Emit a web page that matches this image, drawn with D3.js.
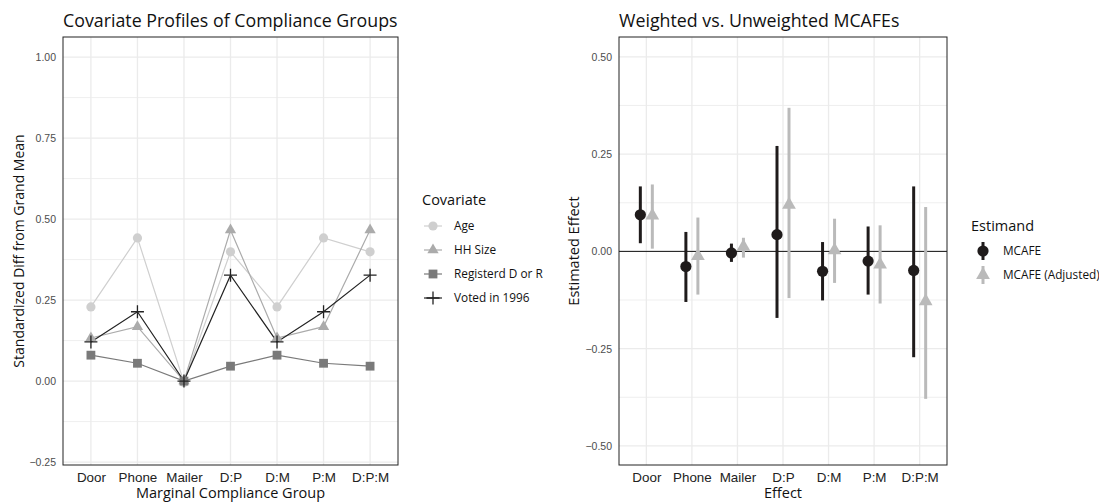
<!DOCTYPE html>
<html>
<head>
<meta charset="utf-8">
<script src="https://cdn.jsdelivr.net/npm/d3@7"></script>
<style>
  body { margin: 0; background: #fff; }
  svg { font-family: "Open Sans", "Noto Sans", sans-serif; }
</style>
</head>
<body>
<svg id="chart"></svg>
<script>
// categories shared by both panels
const groups = ["Door", "Phone", "Mailer", "D:P", "D:M", "P:M", "D:P:M"];

// left panel: standardized differences per covariate
const covariates = ["Age", "HH Size", "Registerd D or R", "Voted in 1996"];
const ageVals = [0.229, 0.442, -0.004, 0.399, 0.229, 0.442, 0.399];
const hhVals = [0.133, 0.168, 0.0, 0.466, 0.133, 0.168, 0.466];
const regVals = [0.080, 0.055, 0.0, 0.046, 0.080, 0.055, 0.046];
const votedVals = [0.121, 0.214, 0.0, 0.327, 0.121, 0.214, 0.327];
const leftTicks = [-0.25, 0, 0.25, 0.5, 0.75, 1.0];

// right panel: estimates with intervals
const estimands = ["MCAFE", "MCAFE (Adjusted)"];
const mcafeEst = [0.094, -0.039, -0.004, 0.043, -0.051, -0.025, -0.049];
const mcafeLo = [0.021, -0.130, -0.027, -0.171, -0.126, -0.111, -0.272];
const mcafeHi = [0.167, 0.050, 0.020, 0.271, 0.024, 0.064, 0.167];
const adjEst = [0.092, -0.012, 0.012, 0.120, 0.003, -0.034, -0.128];
const adjLo = [0.007, -0.111, -0.016, -0.120, -0.081, -0.134, -0.379];
const adjHi = [0.172, 0.087, 0.035, 0.369, 0.084, 0.067, 0.114];
const rightTicks = [-0.5, -0.25, 0, 0.25, 0.5];

const W = 1099, H = 504;
const svg = d3.select("#chart").attr("width", W).attr("height", H);

const gridCol = "#ebebeb";
const tickCol = "#4d4d4d";
const titleSize = "17.8px", axisTitleSize = "14.5px", legTitleSize = "14.5px", legLabelSize = "11.8px";

function panel(x0, x1, y0, y1, yDomain, ticks) {
  const sx = d3.scalePoint().domain(groups).range([x0, x1]).padding(0.6);
  const sy = d3.scaleLinear().domain(yDomain).range([y1, y0]);
  const g = svg.append("g");
  // minor grid
  const minors = [];
  for (let i = 0; i < ticks.length - 1; i++) minors.push((ticks[i] + ticks[i + 1]) / 2);
  minors.push(ticks[0] - (ticks[1] - ticks[0]) / 2);
  g.selectAll(".minor").data(minors.filter(d => sy(d) > y0 && sy(d) < y1)).enter()
    .append("line").attr("x1", x0).attr("x2", x1)
    .attr("y1", d => sy(d)).attr("y2", d => sy(d))
    .attr("stroke", gridCol).attr("stroke-width", 0.8);
  g.selectAll(".majorY").data(ticks).enter()
    .append("line").attr("x1", x0).attr("x2", x1)
    .attr("y1", d => sy(d)).attr("y2", d => sy(d))
    .attr("stroke", gridCol).attr("stroke-width", 1.3);
  g.selectAll(".majorX").data(groups).enter()
    .append("line").attr("y1", y0).attr("y2", y1)
    .attr("x1", d => sx(d)).attr("x2", d => sx(d))
    .attr("stroke", gridCol).attr("stroke-width", 1.3);
  // axes (labels only)
  const ay = d3.axisLeft(sy).tickValues(ticks).tickFormat(d3.format(".2f")).tickSize(0).tickPadding(7);
  svg.append("g").attr("transform", `translate(${x0},0)`).call(ay)
    .call(a => a.select(".domain").remove())
    .selectAll("text").attr("fill", tickCol).style("font-size", "10.5px").attr("font-family", null);
  const ax = d3.axisBottom(sx).tickSize(0).tickPadding(7);
  svg.append("g").attr("transform", `translate(0,${y1})`).call(ax)
    .call(a => a.select(".domain").remove())
    .selectAll("text").attr("fill", "#222").style("font-size", "13.4px").attr("font-family", null);
  return { sx, sy, g };
}

function frame(x0, x1, y0, y1) {
  svg.append("rect").attr("x", x0).attr("y", y0).attr("width", x1 - x0).attr("height", y1 - y0)
    .attr("fill", "none").attr("stroke", "#222").attr("stroke-width", 1);
}

function sym(sel, shape, color, size) {
  if (shape === "circle") {
    sel.append("circle").attr("r", size).attr("fill", color);
  } else if (shape === "triangle") {
    sel.append("path").attr("d", d3.symbol(d3.symbolTriangle, size * size * 2.6)()).attr("fill", color);
  } else if (shape === "square") {
    sel.append("rect").attr("x", -size).attr("y", -size).attr("width", 2 * size).attr("height", 2 * size).attr("fill", color);
  } else {
    sel.append("path").attr("d", `M${-size},0H${size}M0,${-size}V${size}`).attr("stroke", color).attr("stroke-width", 1.3);
  }
}

// ---------- left panel ----------
const L = { x0: 63, x1: 398, y0: 37, y1: 465 };
const lp = panel(L.x0, L.x1, L.y0, L.y1, [-0.259, 1.062], leftTicks);
const series = [
  { name: covariates[0], vals: ageVals, color: "#cfcfcf", shape: "circle", size: 4.6 },
  { name: covariates[1], vals: hhVals, color: "#ababab", shape: "triangle", size: 4.6 },
  { name: covariates[2], vals: regVals, color: "#7a7a7a", shape: "square", size: 4.4 },
  { name: covariates[3], vals: votedVals, color: "#222222", shape: "plus", size: 6.5 }
];
const line = d3.line().x((d, i) => lp.sx(groups[i])).y(d => lp.sy(d));
series.forEach(s => {
  lp.g.append("path").datum(s.vals).attr("d", line)
    .attr("fill", "none").attr("stroke", s.color).attr("stroke-width", 1.2);
});
series.forEach(s => {
  s.vals.forEach((v, i) => {
    const m = lp.g.append("g").attr("transform", `translate(${lp.sx(groups[i])},${lp.sy(v)})`);
    sym(m, s.shape, s.color, s.size);
  });
});
frame(L.x0, L.x1, L.y0, L.y1);

svg.append("text").attr("x", L.x0).attr("y", 27).text("Covariate Profiles of Compliance Groups")
  .style("font-size", titleSize).attr("fill", "#111");
svg.append("text").attr("transform", `translate(24,${(L.y0 + L.y1) / 2}) rotate(-90)`)
  .attr("text-anchor", "middle").text("Standardized Diff from Grand Mean")
  .style("font-size", "14px").attr("fill", "#111");
svg.append("text").attr("x", (L.x0 + L.x1) / 2).attr("y", 498).attr("text-anchor", "middle")
  .text("Marginal Compliance Group").style("font-size", axisTitleSize).attr("fill", "#111");

// left legend
const leg1 = svg.append("g").attr("transform", "translate(422,0)");
leg1.append("text").attr("x", 0).attr("y", 205).text("Covariate").style("font-size", legTitleSize).attr("fill", "#111");
series.forEach((s, i) => {
  const y = 226 + i * 24;
  const k = leg1.append("g").attr("transform", `translate(11,${y})`);
  k.append("line").attr("x1", -9).attr("x2", 9).attr("stroke", s.color).attr("stroke-width", 1.2);
  sym(k, s.shape, s.color, s.size);
  leg1.append("text").attr("x", 32).attr("y", y + 4).text(s.name).style("font-size", legLabelSize).attr("fill", "#111");
});

// ---------- right panel ----------
const R = { x0: 619, x1: 947, y0: 37, y1: 465 };
const rp = panel(R.x0, R.x1, R.y0, R.y1, [-0.549, 0.551], rightTicks);
rp.g.append("line").attr("x1", R.x0).attr("x2", R.x1)
  .attr("y1", rp.sy(0)).attr("y2", rp.sy(0)).attr("stroke", "#111").attr("stroke-width", 1);
const dodge = 6;
const est = [
  { name: estimands[0], est: mcafeEst, lo: mcafeLo, hi: mcafeHi, color: "#1f1b1b", shape: "circle", size: 5.6, off: -dodge },
  { name: estimands[1], est: adjEst, lo: adjLo, hi: adjHi, color: "#bababa", shape: "triangle", size: 5.6, off: dodge }
];
est.forEach(s => {
  groups.forEach((gname, i) => {
    const x = rp.sx(gname) + s.off;
    rp.g.append("line").attr("x1", x).attr("x2", x)
      .attr("y1", rp.sy(s.lo[i])).attr("y2", rp.sy(s.hi[i]))
      .attr("stroke", s.color).attr("stroke-width", 3);
    const m = rp.g.append("g").attr("transform", `translate(${x},${rp.sy(s.est[i])})`);
    sym(m, s.shape, s.color, s.size);
  });
});
frame(R.x0, R.x1, R.y0, R.y1);

svg.append("text").attr("x", R.x0).attr("y", 27).text("Weighted vs. Unweighted MCAFEs")
  .style("font-size", titleSize).attr("fill", "#111");
svg.append("text").attr("transform", `translate(579,${(R.y0 + R.y1) / 2}) rotate(-90)`)
  .attr("text-anchor", "middle").text("Estimated Effect")
  .style("font-size", axisTitleSize).attr("fill", "#111");
svg.append("text").attr("x", (R.x0 + R.x1) / 2).attr("y", 498).attr("text-anchor", "middle")
  .text("Effect").style("font-size", axisTitleSize).attr("fill", "#111");

// right legend
const leg2 = svg.append("g").attr("transform", "translate(971,0)");
leg2.append("text").attr("x", 0).attr("y", 231).text("Estimand").style("font-size", legTitleSize).attr("fill", "#111");
est.forEach((s, i) => {
  const y = 251 + i * 24;
  const k = leg2.append("g").attr("transform", `translate(12,${y})`);
  k.append("line").attr("y1", -9).attr("y2", 9).attr("stroke", s.color).attr("stroke-width", 3);
  sym(k, s.shape, s.color, s.size);
  leg2.append("text").attr("x", 32).attr("y", y + 4).text(s.name).style("font-size", legLabelSize).attr("fill", "#111");
});
</script>
</body>
</html>
